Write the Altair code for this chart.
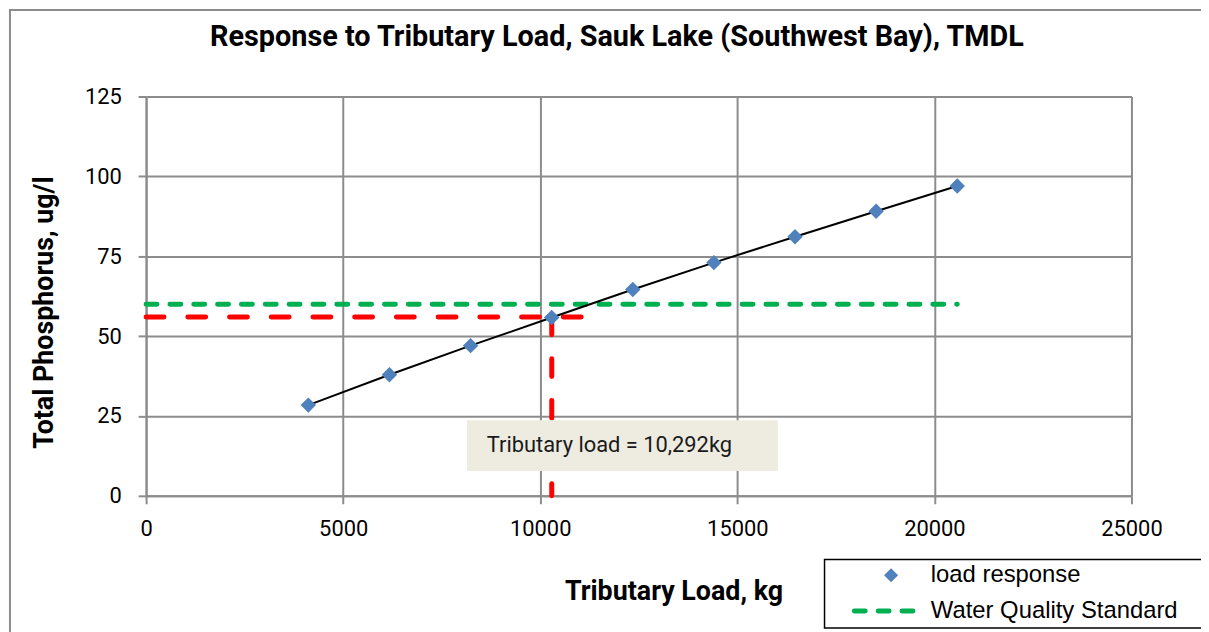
import altair as alt
import pandas as pd

# ---- data ----
loads = [4116, 6174, 8232, 10290, 12348, 14406, 16464, 18522, 20580]
tp = [28.4, 37.9, 47.0, 55.8, 64.6, 73.0, 81.1, 89.1, 97.0]
wqs_x = [0, 20580]
wqs_y = [60, 60]
target_h_x = [0, 11100]
target_h_y = [56, 56]
target_v_x = [10292, 10292]
target_v_y = [0, 56]
x_ticks = [0, 5000, 10000, 15000, 20000, 25000]
y_ticks = [0, 25, 50, 75, 100, 125]
title_text = "Response to Tributary Load, Sauk Lake (Southwest Bay), TMDL"
annot_text = "Tributary load = 10,292kg"
legend_labels = ["load response", "Water Quality Standard"]

NARROW = "Roboto, sans-serif"
REG = "Liberation Sans, Arial, sans-serif"
GRID = "#8c8c8c"
W, H = 992, 402

xs = alt.Scale(domain=[0, 25000], nice=False)
ys = alt.Scale(domain=[0, 125], nice=False)

pts = pd.DataFrame({"load": loads, "tp": tp})
one = pd.DataFrame({"a": [0]})

x_axis = alt.Axis(values=x_ticks, format="d", grid=True, gridColor=GRID, gridWidth=2,
                  domainColor=GRID, domainWidth=2, tickColor=GRID, tickWidth=2, tickSize=8,
                  labelFont=NARROW, labelFontSize=22, labelColor="#000", labelPadding=15,
                  labelFlush=False, labelOverlap=False,
                  title="Tributary Load, kg", titleFont=NARROW, titleFontSize=27,
                  titleFontWeight="bold", titleColor="#000", titleX=531, titleY=96,
                  titleAlign="center", titleBaseline="middle", titleAngle=0)
y_axis = alt.Axis(values=y_ticks, grid=True, gridColor=GRID, gridWidth=2,
                  domainColor=GRID, domainWidth=2, tickColor=GRID, tickWidth=2, tickSize=8,
                  labelFont=NARROW, labelFontSize=22, labelColor="#000", labelPadding=17,
                  labelFlush=False, labelOverlap=False,
                  title="Total Phosphorus, ug/l", titleFont=NARROW, titleFontSize=27,
                  titleFontWeight="bold", titleColor="#000", titleX=-102, titleY=217,
                  titleAlign="center", titleBaseline="middle", titleAngle=-90)

# frame around the chart
frame = alt.Chart(one).mark_rect(fillOpacity=0, stroke=GRID, strokeWidth=2).encode(
    x=alt.value(-137), x2=alt.value(1080), y=alt.value(-87), y2=alt.value(560))

axes_layer = alt.Chart(pts).mark_point(opacity=0).encode(
    x=alt.X("load:Q", scale=xs, axis=x_axis),
    y=alt.Y("tp:Q", scale=ys, axis=y_axis))

wqs_df = pd.DataFrame({"load": wqs_x, "tp": wqs_y})
wqs = alt.Chart(wqs_df).mark_line(color="#00B050", strokeWidth=5, strokeDash=[11, 13],
                                  strokeCap="round").encode(
    x=alt.X("load:Q", scale=xs), y=alt.Y("tp:Q", scale=ys))

th_df = pd.DataFrame({"load": target_h_x, "tp": target_h_y})
th = alt.Chart(th_df).mark_line(color="#FF0000", strokeWidth=5, strokeDash=[18, 24],
                                strokeCap="round").encode(
    x=alt.X("load:Q", scale=xs), y=alt.Y("tp:Q", scale=ys))

tv_df = pd.DataFrame({"load": target_v_x, "tp": target_v_y})
tv = alt.Chart(tv_df).mark_line(color="#FF0000", strokeWidth=5, strokeDash=[18, 24],
                                strokeCap="round").encode(
    x=alt.X("load:Q", scale=xs), y=alt.Y("tp:Q", scale=ys),
    order=alt.Order("tp:Q", sort="descending"))

line = alt.Chart(pts).mark_line(color="#000", strokeWidth=2).encode(
    x=alt.X("load:Q", scale=xs), y=alt.Y("tp:Q", scale=ys))

diamonds = alt.Chart(pts).mark_point(shape="diamond", filled=True, color="#4F81BD",
                                     size=240, opacity=1).encode(
    x=alt.X("load:Q", scale=xs), y=alt.Y("tp:Q", scale=ys))

# annotation box
abox = alt.Chart(one).mark_rect(fill="#EEECE1").encode(
    x=alt.value(323), x2=alt.value(636), y=alt.value(326), y2=alt.value(377))
atext = alt.Chart(one).mark_text(text=annot_text, font=NARROW, fontSize=22, align="left",
                                 baseline="middle", color="#1a1a1a").encode(
    x=alt.value(343), y=alt.value(351))

title = alt.Chart(one).mark_text(text=title_text, font=NARROW, fontSize=29, fontWeight="bold",
                                 align="center", baseline="middle", color="#000").encode(
    x=alt.value(474), y=alt.value(-60))

# legend
lbox = alt.Chart(one).mark_rect(fill="#fff", stroke="#000", strokeWidth=1.5).encode(
    x=alt.value(683), x2=alt.value(1090), y=alt.value(466), y2=alt.value(535))
ldia = alt.Chart(one).mark_point(shape="diamond", filled=True, color="#4F81BD", size=200,
                                 opacity=1).encode(x=alt.value(750), y=alt.value(482))
lline = alt.Chart(one).mark_rule(color="#00B050", strokeWidth=5, strokeDash=[11, 13],
                                 strokeCap="round").encode(
    x=alt.value(713), x2=alt.value(775), y=alt.value(518))
ltext = alt.Chart(pd.DataFrame({"t": legend_labels, "yy": [482, 518]})).mark_text(
    font=REG, fontSize=24, align="left", baseline="middle", color="#000").encode(
    text="t:N", x=alt.value(790), y=alt.Y("yy:Q", scale=None))

chart = alt.layer(frame, axes_layer, wqs, th, tv, line, diamonds, abox, atext, title,
                  lbox, ldia, lline, ltext).properties(
    width=W, height=H,
    autosize=alt.AutoSizeParams(type="none"),
    padding={"left": 139, "top": 87, "right": 70, "bottom": 135},
).configure_view(stroke=None).configure(background="#fff")

chart.save("out.html", embed_options={"renderer": "svg", "actions": False})
